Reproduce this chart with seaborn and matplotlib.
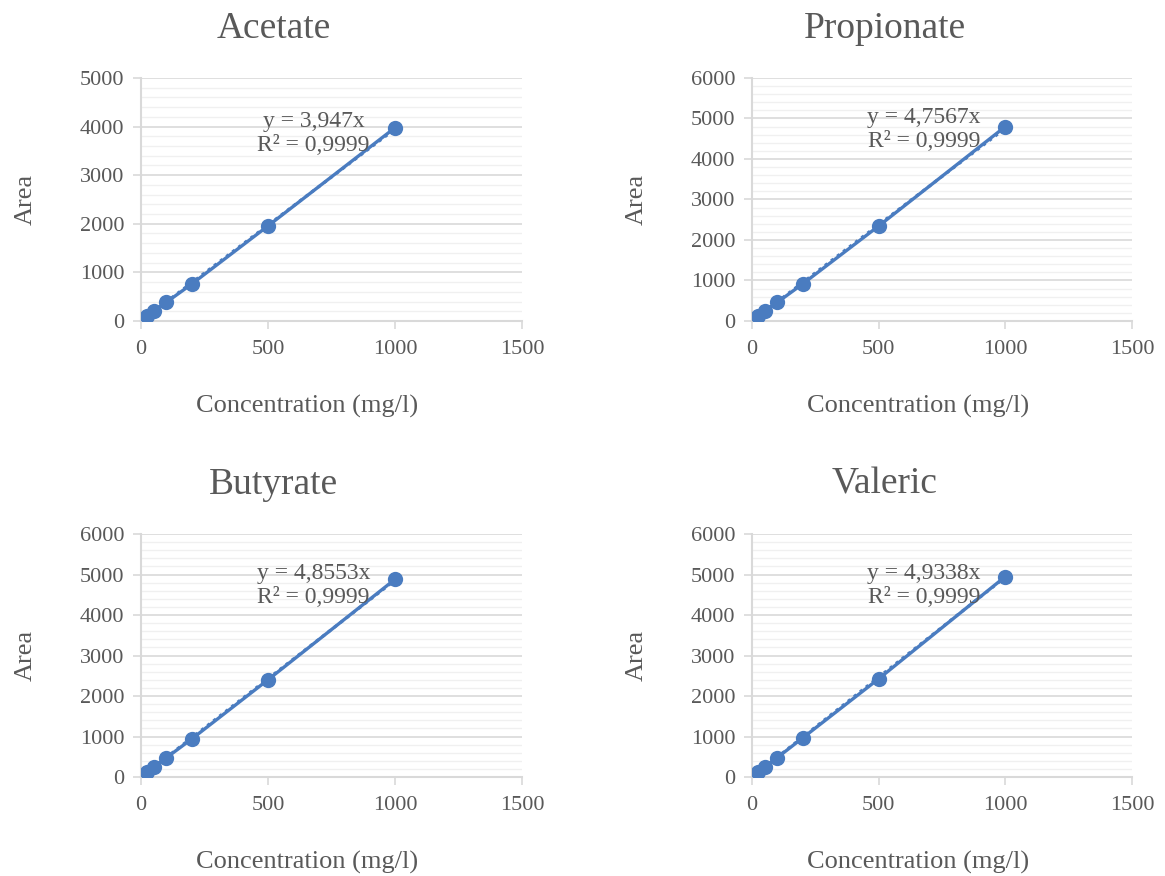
import matplotlib
matplotlib.use("Agg")
import matplotlib.pyplot as plt
from matplotlib.ticker import MultipleLocator
import numpy as np
import pandas as pd
import seaborn as sns

# Calibration standards (mg/l) and measured peak areas
concentration = [25, 50, 100, 200, 500, 1000]
acetate_area = [100, 195, 385, 760, 1955, 3975]
propionate_area = [115, 235, 460, 915, 2345, 4800]
butyrate_area = [118, 240, 475, 940, 2400, 4880]
valeric_area = [120, 245, 480, 965, 2425, 4950]

names = ["Acetate", "Propionate", "Butyrate", "Valeric"]
slopes = [3.947, 4.7567, 4.8553, 4.9338]
r2_values = [0.9999, 0.9999, 0.9999, 0.9999]
y_max = [5000, 6000, 6000, 6000]
x_ticks = [0, 500, 1000, 1500]

areas = [acetate_area, propionate_area, butyrate_area, valeric_area]

sns.set_theme(style="white")
plt.rcParams["font.family"] = ["Liberation Serif", "DejaVu Serif"]

TEXT = "#595959"
BLUE = "#4A7CC0"
GRID_MAJOR = "#D9D9D9"
GRID_MINOR = "#F0F0F0"

fig = plt.figure(figsize=(11.65, 8.76), dpi=100)

# Axes rectangles [left, bottom, width, height] in figure fractions
rects = [
    [0.1210, 0.6336, 0.3270, 0.2774],
    [0.6455, 0.6336, 0.3262, 0.2774],
    [0.1210, 0.1130, 0.3270, 0.2774],
    [0.6455, 0.1130, 0.3262, 0.2774],
]
# Equation block vertical position (axes fraction) per panel
eq_y = [0.772, 0.788, 0.788, 0.788]


def fmt_comma(v, digits):
    return f"{v:.{digits}f}".replace(".", ",")


for name, area, slope, r2, ymax, rect, ey in zip(names, areas, slopes, r2_values,
                                                  y_max, rects, eq_y):
    ax = fig.add_axes(rect)
    df = pd.DataFrame({"Concentration": concentration, "Area": area})

    # Linear trendline through the origin (dotted) under the data series
    xs = np.array([0, max(concentration)])
    ax.plot(xs, slope * xs, linestyle=(0, (1, 1.5)), color=BLUE, lw=2.2, zorder=3)

    sns.lineplot(data=df, x="Concentration", y="Area", ax=ax, color=BLUE,
                 lw=2.4, marker="o", markersize=11, markeredgewidth=0,
                 zorder=4, legend=False)

    ax.set_xlim(0, 1500)
    ax.set_ylim(0, ymax)
    ax.set_xticks(x_ticks)
    ax.yaxis.set_major_locator(MultipleLocator(1000))
    ax.yaxis.set_minor_locator(MultipleLocator(200))

    ax.grid(False)
    ax.yaxis.grid(True, which="minor", color=GRID_MINOR, lw=1.0, zorder=0)
    ax.yaxis.grid(True, which="major", color=GRID_MAJOR, lw=1.2, zorder=1)
    ax.set_axisbelow(True)

    for side in ["top", "right"]:
        ax.spines[side].set_visible(False)
    for side in ["left", "bottom"]:
        ax.spines[side].set_color(GRID_MAJOR)
        ax.spines[side].set_linewidth(1.5)

    ax.tick_params(axis="both", which="major", direction="out", length=6,
                   width=1.2, color=GRID_MAJOR, labelsize=16, labelcolor=TEXT,
                   left=True, bottom=True)
    ax.tick_params(axis="x", which="major", pad=8)
    ax.tick_params(axis="y", which="major", pad=6)
    ax.tick_params(axis="y", which="minor", length=0)

    ax.set_title(name, fontsize=27, color=TEXT, x=0.349, y=1.169, va="center")
    ax.set_xlabel("Concentration (mg/l)", fontsize=19, color=TEXT, va="center")
    ax.xaxis.set_label_coords(0.436, -0.350)
    ax.set_ylabel("Area", fontsize=19, color=TEXT, va="center")
    ax.yaxis.set_label_coords(-0.303, 0.5)

    digits = len(str(slope).split(".")[1])
    label = f"y = {fmt_comma(slope, digits)}x\nR² = {fmt_comma(r2, 4)}"
    ax.text(0.453, ey, label, transform=ax.transAxes, ha="center", va="center",
            fontsize=17, color=TEXT, linespacing=1.15, zorder=5)

fig.savefig("out.png", dpi=100, facecolor="white")
